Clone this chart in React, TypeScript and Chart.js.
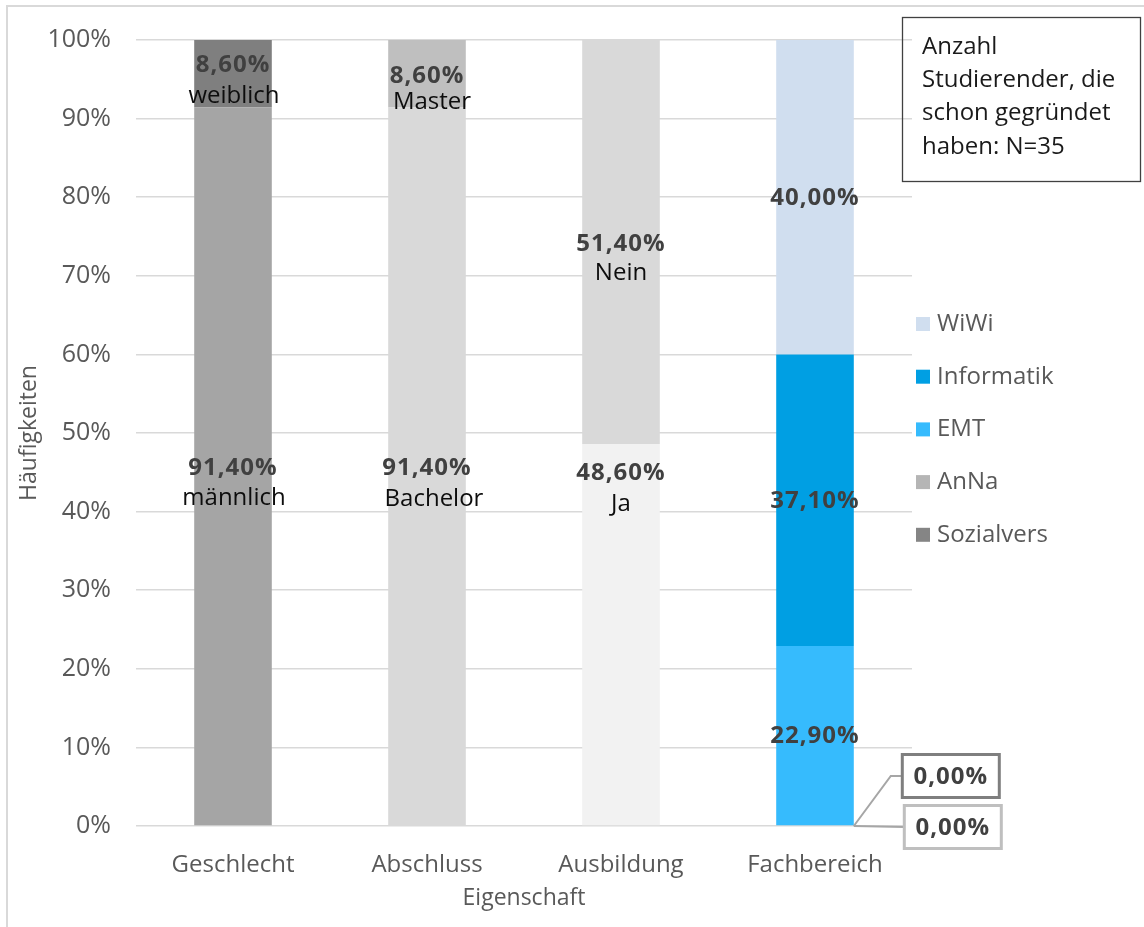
import React, { useEffect, useRef } from 'react';
import { Chart, registerables } from 'chart.js';

Chart.register(...registerables);

// ---- data ----
const categories = ['Geschlecht', 'Abschluss', 'Ausbildung', 'Fachbereich'];

const geschlechtNames = ['männlich', 'weiblich'];
const geschlechtValues = [91.4, 8.6];
const abschlussNames = ['Bachelor', 'Master'];
const abschlussValues = [91.4, 8.6];
const ausbildungNames = ['Ja', 'Nein'];
const ausbildungValues = [48.6, 51.4];
const fachbereichNames = ['Sozialvers', 'AnNa', 'EMT', 'Informatik', 'WiWi'];
const fachbereichValues = [0, 0, 22.9, 37.1, 40.0];

const noteLines = ['Anzahl', 'Studierender, die', 'schon gegründet', 'haben: N=35'];

// ---- styles ----
const geschlechtColors = ['#a5a5a5', '#7f7f7f'];
const abschlussColors = ['#d9d9d9', '#bfbfbf'];
const ausbildungColors = ['#f2f2f2', '#d9d9d9'];
const fachbereichColors = ['#858585', '#b5b5b5', '#36bbfd', '#009fe3', '#d0deef'];

const FONT = '"Open Sans", "Noto Sans", sans-serif';
const AXIS_COLOR = '#595959';
const VALUE_COLOR = '#404040';

// per-label placement tweaks (pixels, relative to the bar segment centre)
const labelStyles: Record<string, { dy: number; gap: number; nameDx: number; showName: boolean }> = {
  'männlich': { dy: 2, gap: 30, nameDx: 1, showName: true },
  'weiblich': { dy: -9, gap: 31, nameDx: 1, showName: true },
  'Bachelor': { dy: 2, gap: 31, nameDx: 7, showName: true },
  'Master': { dy: 2, gap: 26, nameDx: 5, showName: true },
  'Ja': { dy: -161, gap: 31, nameDx: 0, showName: true },
  'Nein': { dy: 2, gap: 29, nameDx: 0, showName: true },
};

const zeroLabelStyles: Record<string, { dx: number; dy: number; elbowDx: number; border: string }> = {
  'Sozialvers': { dx: 97, dy: -50, elbowDx: 37, border: '#7f7f7f' },
  'AnNa': { dx: 99, dy: 1, elbowDx: 0, border: '#bfbfbf' },
};

const fmt = (v: number) => v.toFixed(2).replace('.', ',') + '%';

export default function App() {
  const ref = useRef<HTMLCanvasElement>(null);

  useEffect(() => {
    const canvas = ref.current!;
    const groups = [
      { ci: 0, names: geschlechtNames, values: geschlechtValues, colors: geschlechtColors },
      { ci: 1, names: abschlussNames, values: abschlussValues, colors: abschlussColors },
      { ci: 2, names: ausbildungNames, values: ausbildungValues, colors: ausbildungColors },
      { ci: 3, names: fachbereichNames, values: fachbereichValues, colors: fachbereichColors },
    ];
    const datasets: any[] = [];
    groups.forEach((g) =>
      g.names.forEach((name, j) =>
        datasets.push({
          label: name,
          data: categories.map((_, k) => (k === g.ci ? g.values[j] : null)),
          backgroundColor: g.colors[j],
          borderWidth: 0,
          categoryPercentage: 1,
          barPercentage: 0.4,
        })
      )
    );

    const overlay = {
      id: 'overlay',
      beforeDraw(chart: any) {
        const ctx = chart.ctx as CanvasRenderingContext2D;
        ctx.save();
        ctx.fillStyle = '#ffffff';
        ctx.fillRect(0, 0, chart.width, chart.height);
        ctx.strokeStyle = '#d9d9d9';
        ctx.lineWidth = 2;
        ctx.strokeRect(7, 6, chart.width + 20, chart.height + 20);
        ctx.restore();
      },
      afterDraw(chart: any) {
        const ctx = chart.ctx as CanvasRenderingContext2D;
        ctx.save();
        // data labels
        chart.data.datasets.forEach((ds: any, i: number) => {
          const meta = chart.getDatasetMeta(i);
          meta.data.forEach((el: any, k: number) => {
            const v = ds.data[k];
            if (v === null || v === undefined) return;
            const name = ds.label as string;
            if (v === 0) {
              const zs = zeroLabelStyles[name];
              if (!zs) return;
              const right = el.x + el.width / 2;
              const base = el.base;
              const bw = 97, bh = 43;
              const cx = right + zs.dx;
              const cy = base + zs.dy;
              ctx.strokeStyle = '#a6a6a6';
              ctx.lineWidth = 2;
              ctx.beginPath();
              ctx.moveTo(right, base);
              if (zs.elbowDx) ctx.lineTo(right + zs.elbowDx, cy);
              ctx.lineTo(cx - bw / 2, cy);
              ctx.stroke();
              ctx.fillStyle = '#ffffff';
              ctx.fillRect(cx - bw / 2, cy - bh / 2, bw, bh);
              ctx.strokeStyle = zs.border;
              ctx.lineWidth = 3;
              ctx.strokeRect(cx - bw / 2, cy - bh / 2, bw, bh);
              ctx.fillStyle = VALUE_COLOR;
              ctx.font = `bold 24px ${FONT}`;
              (ctx as any).letterSpacing = '1px';
              ctx.textAlign = 'center';
              ctx.textBaseline = 'middle';
              ctx.fillText(fmt(v), cx, cy + 1);
              (ctx as any).letterSpacing = '0px';
              return;
            }
            const st = labelStyles[name] || { dy: 1, gap: 30, nameDx: 0, showName: false };
            const cy = (el.y + el.base) / 2 + st.dy;
            ctx.textAlign = 'center';
            ctx.textBaseline = 'middle';
            ctx.fillStyle = VALUE_COLOR;
            ctx.font = `bold 24px ${FONT}`;
            (ctx as any).letterSpacing = '1px';
            ctx.fillText(fmt(v), el.x, cy);
            (ctx as any).letterSpacing = '0px';
            if (st.showName) {
              ctx.fillStyle = '#0d0d0d';
              ctx.font = `24px ${FONT}`;
              ctx.fillText(name, el.x + st.nameDx, cy + st.gap);
            }
          });
        });

        // legend (Fachbereich series, reversed)
        const legendIdx = fachbereichNames.map((_, j) => j).reverse();
        ctx.font = `24px ${FONT}`;
        ctx.textAlign = 'left';
        ctx.textBaseline = 'middle';
        legendIdx.forEach((j, r) => {
          const y = 324 + r * 52.7;
          ctx.fillStyle = fachbereichColors[j];
          ctx.fillRect(916, y - 7, 14, 14);
          ctx.fillStyle = AXIS_COLOR;
          ctx.fillText(fachbereichNames[j], 937, y);
        });

        // note box
        ctx.strokeStyle = '#404040';
        ctx.lineWidth = 1.3;
        ctx.strokeRect(902.5, 17.5, 238, 164);
        ctx.fillStyle = '#1a1a1a';
        ctx.font = `24px ${FONT}`;
        noteLines.forEach((line, i) => {
          ctx.fillText(line, 922, 47 + i * 33.3);
        });
        ctx.restore();
      },
    };

    const chart = new Chart(canvas, {
      type: 'bar',
      data: { labels: categories, datasets },
      options: {
        responsive: false,
        animation: false,
        layout: { padding: { left: 0, right: 232, top: 38, bottom: 0 } },
        plugins: {
          legend: { display: false },
          tooltip: { enabled: false },
        },
        scales: {
          x: {
            stacked: true,
            grid: { display: false },
            border: { display: false },
            ticks: { color: AXIS_COLOR, font: { family: FONT, size: 24 }, padding: 17, maxRotation: 0 },
            title: {
              display: true,
              text: 'Eigenschaft',
              color: AXIS_COLOR,
              font: { family: FONT, size: 23 },
              padding: { top: 0, bottom: 15 },
            },
            afterFit: (s: any) => { s.height = 101; },
          },
          y: {
            stacked: true,
            min: 0,
            max: 100,
            grid: { color: '#d9d9d9', lineWidth: 1.5, drawTicks: false },
            border: { display: false },
            ticks: {
              stepSize: 10,
              color: AXIS_COLOR,
              font: { family: FONT, size: 25 },
              padding: 25,
              callback: (v: any) => v + '%',
            },
            title: {
              display: true,
              text: 'Häufigkeiten',
              color: AXIS_COLOR,
              font: { family: FONT, size: 23 },
              padding: { top: 16, bottom: 0 },
            },
            afterFit: (s: any) => { s.width = 136; },
          },
        },
      },
      plugins: [overlay],
    } as any);

    return () => chart.destroy();
  }, []);

  return (
    <div style={{ position: 'absolute', left: 0, top: 0, width: 1144, height: 927 }}>
      <canvas ref={ref} width={1144} height={927} style={{ display: 'block' }} />
    </div>
  );
}
